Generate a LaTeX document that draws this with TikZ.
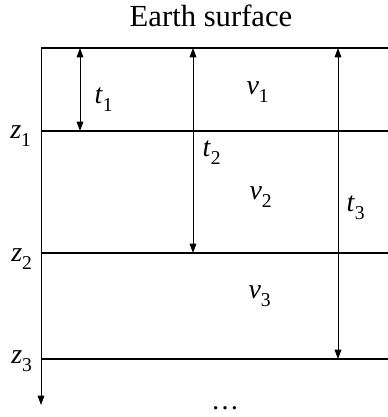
\documentclass[tikz,border=0pt]{standalone}
\usepackage{fontspec}
\setmainfont{Liberation Serif}
\usetikzlibrary{arrows.meta}

\tikzset{every picture/.style={line width=0.75pt}}
\tikzset{
  layer/.style={line width=0.9pt},
  depth/.style={{Triangle[length=7pt,width=5pt]}-{Triangle[length=7pt,width=5pt]}},
  lbl/.style={inner sep=0.75pt,font=\fontsize{21}{24}\selectfont}
}
\newcommand{\vsym}[2]{\textit{#1}\raisebox{-0.3ex}{\textsubscript{#2}}}

\begin{document}
\begin{tikzpicture}[x=0.75pt,y=0.75pt,yscale=-1,xscale=1]
\useasboundingbox (0,0) rectangle (388,417);

% layer boundaries
\coordinate (s0) at (41,48);  \coordinate (s0e) at (388,48);
\coordinate (s1) at (41,131); \coordinate (s1e) at (388,131);
\coordinate (s2) at (41,253); \coordinate (s2e) at (388,253);
\coordinate (s3) at (41,359); \coordinate (s3e) at (388,359);
\coordinate (zend) at (41,405);

\draw [layer] (s0) -- (s0e);
\draw [layer] (s1) -- (s1e);
\draw [layer] (s2) -- (s2e);
\draw [layer] (s3) -- (s3e);
\draw [-{Triangle[length=7pt,width=5pt]}] (s0) -- (zend);

% travel times
\coordinate (a1) at (80,48);  \coordinate (b1) at (80,131);
\coordinate (a2) at (193,48); \coordinate (b2) at (193,253);
\coordinate (a3) at (338,48); \coordinate (b3) at (338,359);
\draw [depth] (a1) -- (b1);
\draw [depth] (a2) -- (b2);
\draw [depth] (a3) -- (b3);

% Text Node
\node (title) at (211,16) [lbl,font=\fontsize{23}{26}\selectfont] {Earth surface};
% Text Node
\node (z1) at (21,136) [lbl] {\vsym{z}{1}};
\node (z2) at (22,259) [lbl] {\vsym{z}{2}};
\node (z3) at (22,361) [lbl] {\vsym{z}{3}};
% Text Node
\node (t1) at (104,100) [lbl] {\vsym{t}{1}};
\node (t2) at (212,153) [lbl] {\vsym{t}{2}};
\node (t3) at (356,208) [lbl] {\vsym{t}{3}};
% Text Node
\node (v1) at (258,92) [lbl] {\vsym{v}{1}};
\node (v2) at (261,197) [lbl] {\vsym{v}{2}};
\node (v3) at (260,296) [lbl] {\vsym{v}{3}};
% Text Node
\node (more) at (225,409) [lbl,anchor=base] {\dots};

\end{tikzpicture}
\end{document}
